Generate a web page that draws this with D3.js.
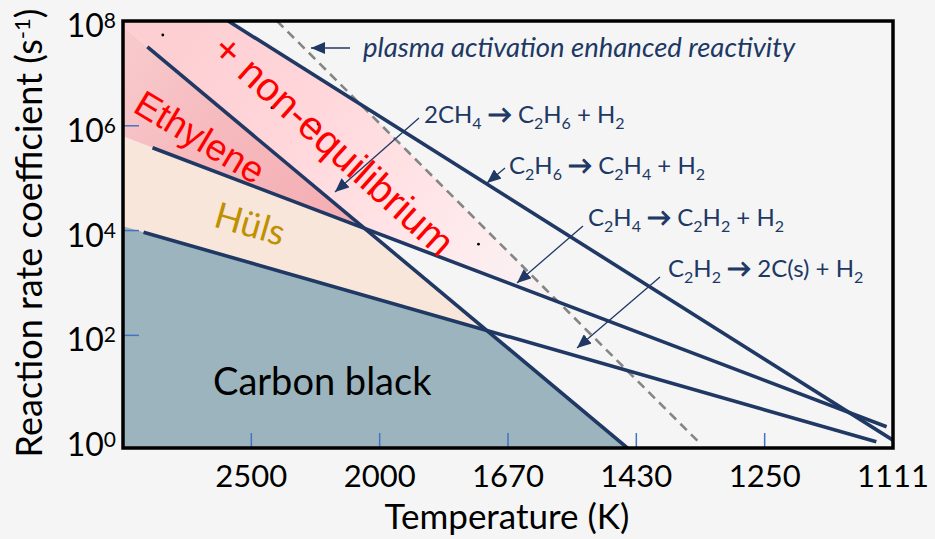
<!DOCTYPE html>
<html><head><meta charset="utf-8">
<script src="https://cdn.jsdelivr.net/npm/d3@7"></script>
<style>
html,body{margin:0;padding:0;background:#F5F5F5;}
svg{display:block;}
</style></head><body>
<svg id="chart" width="935" height="539"></svg>
<script>
// ---------------- data ----------------
// x axis is 1000/T (1/K), labelled with temperatures
const xTickInvT = [0.4, 0.5, 0.6, 0.7, 0.8, 0.9];
const xTickLabels = ["2500", "2000", "1670", "1430", "1250", "1111"];
const yTickExponents = [0, 2, 4, 6, 8];
const yMinorTickExponents = [2, 4, 6];
// reaction lines: endpoints in (1000/T, k [s^-1])
const reactionNames = ["2CH4 → C2H6 + H2", "C2H6 → C2H4 + H2", "C2H4 → C2H2 + H2", "C2H2 → 2C(s) + H2"];
const reactionInvT = [[0.319, 0.693], [0.382, 0.900], [0.323, 0.895], [0.316, 0.887]];
const reactionK = [[3.2e7, 0.71], [1e8, 1.0], [3.8e5, 1.8], [9.3e3, 0.93]];
// plasma-activation dashed line
const plasmaInvT = [0.420, 0.750];
const plasmaK = [1e8, 0.85];
// stray dots in the source picture
const dotInvT = [0.331, 0.416, 0.452, 0.577];
const dotK = [5.4e7, 2.2e6, 1.08e6, 5.5e3];
const regionNames = ["+ non-equilibrium", "Ethylene", "Hüls", "Carbon black"];

// ---------------- layout ----------------
const W = 935, H = 539;
const L = 123, R = 893, T = 21, B = 448;
const navy = "#203864";
const svg = d3.select("#chart");
svg.append("rect").attr("width", W).attr("height", H).attr("fill", "#F5F5F5");

const x = d3.scaleLinear().domain([0.3, 0.9]).range([L, R]);
const y = d3.scaleLog().domain([Math.pow(10, -0.15), 1e8]).range([B, T]);
const yMin = -0.15, yMax = 8, xMin = 0.3;

const defs = svg.append("defs");
defs.append("clipPath").attr("id", "plot").append("rect")
  .attr("x", L).attr("y", T).attr("width", R - L).attr("height", B - T);

const gNE = defs.append("linearGradient").attr("id", "gNE").attr("gradientUnits", "userSpaceOnUse")
  .attr("x1", 190).attr("y1", 40).attr("x2", 540).attr("y2", 290);
[[0, "#FDCFD3"], [0.3, "#FFD6DA"], [0.6, "#FFE2E5"], [0.85, "#FDEDEF"], [1, "#F7F1F2"]].forEach(s =>
  gNE.append("stop").attr("offset", s[0]).attr("stop-color", s[1]));
const gEth = defs.append("linearGradient").attr("id", "gEth").attr("gradientUnits", "userSpaceOnUse")
  .attr("x1", 125).attr("y1", 40).attr("x2", 340).attr("y2", 220);
[[0, "#F8CACC"], [0.45, "#F6BABE"], [1, "#F4AEB3"]].forEach(s =>
  gEth.append("stop").attr("offset", s[0]).attr("stop-color", s[1]));

defs.append("marker").attr("id", "ah").attr("markerUnits", "userSpaceOnUse")
  .attr("viewBox", "0 0 14 12").attr("refX", 14).attr("refY", 6)
  .attr("markerWidth", 14).attr("markerHeight", 12).attr("orient", "auto")
  .append("path").attr("d", "M0,0 L14,6 L0,12 Z").attr("fill", navy);

// line helpers in (1000/T, log10 k) space
const lines = reactionInvT.map((xs, i) => ({
  x0: xs[0], y0: Math.log10(reactionK[i][0]), x1: xs[1], y1: Math.log10(reactionK[i][1])
}));
const plasma = { x0: plasmaInvT[0], y0: Math.log10(plasmaK[0]), x1: plasmaInvT[1], y1: Math.log10(plasmaK[1]) };
const slope = l => (l.y1 - l.y0) / (l.x1 - l.x0);
const at = (l, v) => l.y0 + slope(l) * (v - l.x0);
const xAtY = (l, ly) => l.x0 + (ly - l.y0) / slope(l);
function cross(a, b) {
  const v = (at(b, 0) - at(a, 0)) / (slope(a) - slope(b));
  return [v, at(a, v)];
}
const P = d => [x(d[0]), y(Math.pow(10, d[1]))];
const [CH4, C2H6, C2H4, C2H2] = lines;

const regions = [
  { pts: [[xMin, yMax], [xAtY(C2H6, yMax), yMax], cross(C2H6, plasma), cross(C2H4, plasma), cross(CH4, C2H4), [xMin, at(CH4, xMin)]], fill: "url(#gNE)" },
  { pts: [[xMin, at(CH4, xMin)], cross(CH4, C2H4), [xMin, at(C2H4, xMin)]], fill: "url(#gEth)" },
  { pts: [[xMin, at(C2H4, xMin)], cross(CH4, C2H4), cross(CH4, C2H2), [xMin, at(C2H2, xMin)]], fill: "#F8E6DB" },
  { pts: [[xMin, at(C2H2, xMin)], cross(CH4, C2H2), [xAtY(CH4, yMin), yMin], [xMin, yMin]], fill: "#9CB4BD" }
];
const plotG = svg.append("g").attr("clip-path", "url(#plot)");
plotG.selectAll("path.region").data(regions).join("path").attr("class", "region")
  .attr("d", r => "M" + r.pts.map(p => P(p).join(",")).join("L") + "Z")
  .attr("fill", r => r.fill);

// dashed plasma line
plotG.append("line")
  .attr("x1", x(plasmaInvT[0])).attr("y1", y(plasmaK[0]))
  .attr("x2", x(plasmaInvT[1])).attr("y2", y(plasmaK[1]))
  .attr("stroke", "#858585").attr("stroke-width", 2.6).attr("stroke-dasharray", "9,6");

// reaction lines
plotG.selectAll("line.rx").data(reactionInvT).join("line").attr("class", "rx")
  .attr("x1", (d, i) => x(d[0])).attr("y1", (d, i) => y(reactionK[i][0]))
  .attr("x2", (d, i) => x(d[1])).attr("y2", (d, i) => y(reactionK[i][1]))
  .attr("stroke", navy).attr("stroke-width", 3.6);

// dots
plotG.selectAll("circle").data(dotInvT).join("circle")
  .attr("cx", d => x(d)).attr("cy", (d, i) => y(dotK[i])).attr("r", 1.4).attr("fill", "#000");

// ticks
svg.append("g").selectAll("line").data(xTickInvT.slice(0, 5)).join("line")
  .attr("x1", d => x(d)).attr("x2", d => x(d)).attr("y1", B).attr("y2", B - 15)
  .attr("stroke", "#4472C4").attr("stroke-width", 1.5);
svg.append("g").selectAll("line").data(yMinorTickExponents).join("line")
  .attr("x1", L).attr("x2", L + 16).attr("y1", d => y(Math.pow(10, d))).attr("y2", d => y(Math.pow(10, d)))
  .attr("stroke", "#4472C4").attr("stroke-width", 1.5);

// frame
svg.append("rect").attr("x", L).attr("y", T).attr("width", R - L).attr("height", B - T)
  .attr("fill", "none").attr("stroke", "#000").attr("stroke-width", 3.5);

// tick labels
const FONT = "Lato, 'Open Sans', sans-serif";
svg.append("g").selectAll("text").data(xTickInvT).join("text")
  .attr("x", d => x(d)).attr("y", 487).attr("text-anchor", "middle")
  .attr("font-family", FONT).attr("font-size", 31).attr("fill", "#000")
  .text((d, i) => xTickLabels[i]);
const yl = svg.append("g").selectAll("text").data(yTickExponents).join("text")
  .attr("x", 116).attr("y", d => y(Math.pow(10, d)) + 16).attr("text-anchor", "end")
  .attr("font-family", FONT).attr("font-size", 32).attr("fill", "#000");
yl.append("tspan").text("10");
yl.append("tspan").attr("dy", -9).attr("font-size", 21).text(d => d);

// axis titles
svg.append("text").attr("x", 507).attr("y", 529).attr("text-anchor", "middle")
  .attr("font-family", FONT).attr("font-size", 35).attr("fill", "#000").text("Temperature (K)");
const yt = svg.append("text").attr("transform", "translate(42,233) rotate(-90)").attr("text-anchor", "middle")
  .attr("font-family", FONT).attr("font-size", 36).attr("fill", "#000");
yt.append("tspan").text("Reaction rate coefficient (s");
yt.append("tspan").attr("dy", -12).attr("font-size", 22).text("-1");
yt.append("tspan").attr("dy", 12).text(")");

// region labels
svg.append("text").attr("transform", "translate(334,145) rotate(42)").attr("text-anchor", "middle")
  .attr("dy", "0.35em").attr("font-family", "'Liberation Sans', Arial, sans-serif").attr("font-size", 40)
  .attr("fill", "#FF0000").text(regionNames[0]);
svg.append("text").attr("transform", "translate(200,137) rotate(31)").attr("text-anchor", "middle")
  .attr("dy", "0.35em").attr("font-family", "'Liberation Sans', Arial, sans-serif").attr("font-size", 37)
  .attr("fill", "#FF0000").text(regionNames[1]);
svg.append("text").attr("transform", "translate(250,224) rotate(16)").attr("text-anchor", "middle")
  .attr("dy", "0.35em").attr("font-family", FONT).attr("font-size", 36)
  .attr("fill", "#BF9000").text(regionNames[2]);
svg.append("text").attr("x", 213).attr("y", 395)
  .attr("font-family", FONT).attr("font-size", 38).attr("fill", "#000").text(regionNames[3]);

// annotations
svg.append("line").attr("x1", 350).attr("y1", 48).attr("x2", 311).attr("y2", 48)
  .attr("stroke", navy).attr("stroke-width", 1.5).attr("marker-end", "url(#ah)");
svg.append("text").attr("x", 363).attr("y", 57).attr("font-family", FONT).attr("font-style", "italic")
  .attr("font-size", 27.5).attr("fill", navy).text("plasma activation enhanced reactivity");

const annos = [
  { tx: 424, ty: 123, ax: 419, ay: 118, bx: 335, by: 192 },
  { tx: 509, ty: 174, ax: 505, ay: 168, bx: 487, by: 183 },
  { tx: 588, ty: 226, ax: 583, ay: 226, bx: 517, by: 283 },
  { tx: 668, ty: 277, ax: 660, ay: 277, bx: 577, by: 348 }
];
function chemParts(s) {
  const parts = [];
  for (let i = 0; i < s.length; i++) {
    const c = s[i];
    const kind = c === "→" ? "arrow" : (/[0-9]/.test(c) && i > 0 && /[A-Za-z]/.test(s[i - 1]) ? "sub" : "txt");
    if (parts.length && parts[parts.length - 1].kind === kind && kind !== "arrow") parts[parts.length - 1].t += c;
    else parts.push({ t: c, kind });
  }
  return parts;
}
annos.forEach((a, i) => {
  svg.append("line").attr("x1", a.ax).attr("y1", a.ay).attr("x2", a.bx).attr("y2", a.by)
    .attr("stroke", navy).attr("stroke-width", 1.3).attr("marker-end", "url(#ah)");
  const t = svg.append("text").attr("x", a.tx).attr("y", a.ty).attr("font-family", FONT)
    .attr("font-size", 24).attr("fill", navy);
  let prevSub = false;
  chemParts(reactionNames[i]).forEach(p => {
    const sp = t.append("tspan").text(p.t);
    if (p.kind === "sub") sp.attr("dy", 6).attr("font-size", 16);
    else if (prevSub) sp.attr("dy", -6);
    if (p.kind === "arrow") sp.attr("stroke", navy).attr("stroke-width", 1.1);
    prevSub = p.kind === "sub";
  });
});
</script>
</body></html>
